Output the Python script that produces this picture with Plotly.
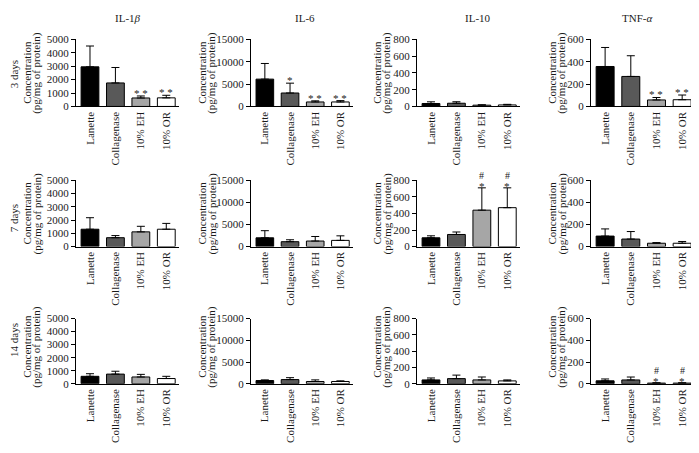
import plotly.graph_objects as go

PAGE_W, PAGE_H = 699, 453
OFF = 8  # default page body margin
W, H = PAGE_W - OFF, PAGE_H - OFF

categories = ["Lanette", "Collagenase", "10% EH", "10% OR"]
cytokines = ["IL-1<i>β</i>", "IL-6", "IL-10", "TNF-<i>α</i>"]
days = ["3 days", "7 days", "14 days"]
y_max = [5000, 15000, 800, 600]
y_dtick = [1000, 5000, 200, 200]
bar_colors = ["#000000", "#595959", "#a6a6a6", "#ffffff"]

# means and SD per cytokine, rows = 3, 7, 14 days
il1b_mean = [[2950, 1750, 630, 640], [1310, 670, 1110, 1310], [570, 740, 520, 400]]
il1b_sd = [[1550, 1150, 150, 190], [870, 160, 420, 440], [200, 220, 200, 170]]
il6_mean = [[6100, 3000, 1000, 1000], [1980, 1100, 1250, 1400], [740, 960, 520, 520]]
il6_sd = [[3500, 2200, 250, 300], [1620, 440, 1030, 1030], [150, 440, 370, 150]]
il10_mean = [[35, 38, 15, 18], [106, 146, 440, 470], [47, 63, 47, 35]]
il10_sd = [[20, 18, 5, 7], [24, 30, 270, 240], [24, 43, 36, 12]]
tnf_mean = [[357, 268, 58, 60], [95, 68, 30, 30], [27, 35, 6, 6]]
tnf_sd = [[170, 185, 22, 42], [65, 68, 6, 16], [17, 27, 3, 3]]

means = [il1b_mean, il6_mean, il10_mean, tnf_mean]
sds = [il1b_sd, il6_sd, il10_sd, tnf_sd]

# significance marks: (day index, cytokine index, category index, marks)
sig_day = [0, 0, 0, 0, 0, 0, 0, 1, 1, 2, 2]
sig_cyto = [0, 0, 1, 1, 1, 3, 3, 2, 2, 3, 3]
sig_cat = [2, 3, 1, 2, 3, 2, 3, 2, 3, 2, 3]
sig_text = ["**", "**", "*", "**", "**", "**", "**", "#*", "#*", "#*", "#*"]

# layout geometry (page pixels)
col_px = [(76, 179), (251, 353), (417, 520), (591, 695)]
row_px = [(34, 103), (179, 247), (321, 388)]
title_x = [128, 305, 478, 637]
ytitle_x = [27, 202, 377, 552]
row_label_y = [70, 218, 343]

FONT = "Liberation Serif"
TXT = "#1a1a1a"


def px_x(x):
    return (x - OFF) / W


def px_y(y):
    return 1 - (y - OFF) / H


fig = go.Figure()
layout = {}
annotations = []

for r in range(3):
    for c in range(4):
        n = r * 4 + c + 1
        sfx = "" if n == 1 else str(n)
        m = means[c][r]
        s = sds[c][r]
        fig.add_trace(go.Bar(
            x=categories, y=m, width=0.7,
            marker=dict(color=bar_colors, line=dict(color="black", width=1)),
            error_y=dict(type="data", array=s, arrayminus=[0] * 4, symmetric=False,
                         color="black", thickness=1, width=4),
            xaxis="x" + sfx, yaxis="y" + sfx, showlegend=False, hoverinfo="skip",
        ))
        x0, x1 = col_px[c]
        y0, y1 = row_px[r]
        layout["xaxis" + sfx] = dict(
            domain=[px_x(x0), px_x(x1)], anchor="y" + sfx, range=[-0.55, 3.5],
            showline=True, linecolor="black", linewidth=1, ticks="",
            tickangle=-90, tickfont=dict(family=FONT, size=11, color=TXT),
            showgrid=False, zeroline=False, fixedrange=True,
        )
        layout["yaxis" + sfx] = dict(
            domain=[px_y(y1), px_y(y0)], anchor="x" + sfx,
            range=[0, y_max[c]], tick0=0, dtick=y_dtick[c], tickformat="d",
            showline=True, linecolor="black", linewidth=1,
            ticks="outside", ticklen=4, tickcolor="black", tickwidth=1,
            tickfont=dict(family=FONT, size=11, color=TXT),
            showgrid=False, zeroline=False, fixedrange=True,
        )
        yc = (y0 + y1) / 2
        if r == 2:
            yc = 350
        annotations.append(dict(
            x=px_x(ytitle_x[c]), y=px_y(yc), xref="paper", yref="paper",
            text="Concentration", textangle=-90, showarrow=False,
            xanchor="center", yanchor="middle",
            font=dict(family=FONT, size=11, color=TXT)))
        annotations.append(dict(
            x=px_x(ytitle_x[c] + 10), y=px_y(yc), xref="paper", yref="paper",
            text="(pg/mg of protein)", textangle=-90, showarrow=False,
            xanchor="center", yanchor="middle",
            font=dict(family=FONT, size=11, color=TXT)))

for c in range(4):
    annotations.append(dict(
        x=px_x(title_x[c]), y=px_y(12), xref="paper", yref="paper",
        text=cytokines[c], showarrow=False, xanchor="center", yanchor="middle",
        font=dict(family=FONT, size=11, color=TXT)))

for r in range(3):
    annotations.append(dict(
        x=px_x(14), y=px_y(row_label_y[r]), xref="paper", yref="paper",
        text=days[r], textangle=-90, showarrow=False,
        xanchor="center", yanchor="middle",
        font=dict(family=FONT, size=11, color=TXT)))

for d, cy, ca, t in zip(sig_day, sig_cyto, sig_cat, sig_text):
    n = d * 4 + cy + 1
    sfx = "" if n == 1 else str(n)
    top = means[cy][d][ca] + sds[cy][d][ca]
    if t in ("**", "*"):
        annotations.append(dict(
            x=categories[ca], y=top, xref="x" + sfx, yref="y" + sfx,
            text="* *" if t == "**" else "*", showarrow=False,
            xanchor="center", yanchor="middle",
            yshift=3, font=dict(family=FONT, size=11, color=TXT)))
    else:
        annotations.append(dict(
            x=categories[ca], y=top, xref="x" + sfx, yref="y" + sfx,
            text="*", showarrow=False, xanchor="center", yanchor="middle",
            yshift=2, font=dict(family=FONT, size=11, color=TXT)))
        annotations.append(dict(
            x=categories[ca], y=top, xref="x" + sfx, yref="y" + sfx,
            text="#", showarrow=False, xanchor="center", yanchor="middle",
            yshift=12, font=dict(family=FONT, size=10, color=TXT)))

fig.update_layout(
    width=W, height=H, margin=dict(l=0, r=0, t=0, b=0),
    paper_bgcolor="white", plot_bgcolor="white",
    showlegend=False, annotations=annotations, **layout,
)

fig.write_html("out.html")
